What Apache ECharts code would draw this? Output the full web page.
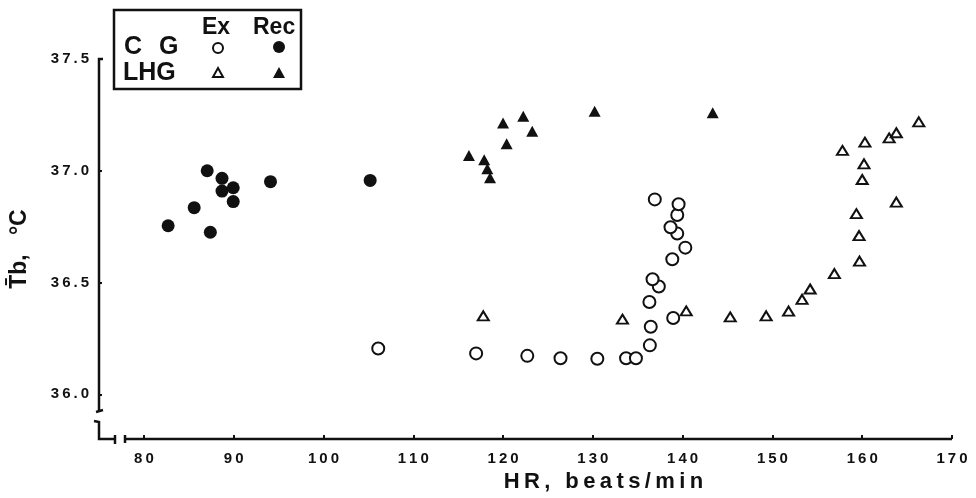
<!DOCTYPE html>
<html>
<head>
<meta charset="utf-8">
<script src="https://cdn.jsdelivr.net/npm/echarts@6/dist/echarts.min.js"></script>
<style>
  html, body { margin: 0; padding: 0; background: #fff; }
  #chart { width: 976px; height: 498px; }
</style>
</head>
<body>
<div id="chart"></div>
<script>
"use strict";

// values: [HR beats/min, mean Tb in C]
const cg_ex = [
  [106.1, 36.205], [117.0, 36.183], [122.7, 36.172], [126.4, 36.161],
  [130.5, 36.159], [133.7, 36.161], [134.8, 36.161], [136.35, 36.219],
  [136.45, 36.302], [138.95, 36.341], [136.3, 36.413], [137.35, 36.482],
  [136.65, 36.515], [138.85, 36.604], [140.3, 36.656], [139.4, 36.719],
  [138.65, 36.747], [139.4, 36.802], [139.55, 36.85], [136.9, 36.872],
];
const cg_rec = [
  [82.7, 36.754], [85.6, 36.835], [87.05, 37.0], [87.4, 36.725],
  [88.7, 36.966], [88.7, 36.909], [89.95, 36.924], [89.95, 36.862],
  [94.1, 36.951], [105.2, 36.957],
];
const lhg_ex = [
  [117.8, 36.351], [133.3, 36.336], [140.4, 36.373], [145.3, 36.346],
  [149.3, 36.351], [151.8, 36.372], [153.3, 36.425], [154.2, 36.471],
  [156.9, 36.54], [159.7, 36.596], [159.65, 36.71], [159.35, 36.808],
  [163.8, 36.86], [160.0, 36.961], [160.2, 37.031], [157.8, 37.091],
  [160.3, 37.128], [163.0, 37.147], [163.8, 37.17], [166.3, 37.219],
];
const lhg_rec = [
  [116.2, 37.068], [117.9, 37.049], [118.25, 37.009], [118.55, 36.969],
  [120.0, 37.214], [120.4, 37.121], [122.25, 37.244], [123.25, 37.177],
  [130.2, 37.266], [143.35, 37.259],
];

const x_ticks = [80, 90, 100, 110, 120, 130, 140, 150, 160, 170];
const y_ticks = [36.0, 36.5, 37.0, 37.5];
const x_title = "HR, beats/min";
const y_title = "T\u0304b,   \u00b0C";

const ink = "#111";
const font = "'Liberation Sans', Arial, sans-serif";

// old typewriter-ish letter spacing
function spaced(s) {
  return String(s).split("").join("\u2009");
}

const chart = echarts.init(document.getElementById("chart"));

const series_common = {
  type: "scatter",
  silent: true,
  animation: false,
};

chart.setOption({
  backgroundColor: "#fff",
  animation: false,
  grid: {
    left: 99,
    right: 24,
    top: 59,
    bottom: 59,
    containLabel: false,
    outerBoundsMode: "none",
  },
  xAxis: {
    type: "value",
    min: 75,
    max: 170,
    axisLine: { show: false },
    splitLine: { show: false },
    axisTick: {
      customValues: x_ticks,
      inside: true,
      length: 4,
      lineStyle: { color: ink, width: 2 },
    },
    axisLabel: {
      customValues: x_ticks,
      margin: 12,
      color: ink,
      fontFamily: font,
      fontWeight: "bold",
      fontSize: 15,
      formatter: (v) => spaced(v),
    },
    name: spaced(x_title),
    nameLocation: "middle",
    nameGap: 32,
    nameTextStyle: {
      color: ink,
      fontFamily: font,
      fontWeight: "bold",
      fontSize: 22,
      padding: [0, 0, 0, 156],
    },
  },
  yAxis: {
    type: "value",
    min: 35.8,
    max: 37.5,
    axisLine: { show: false },
    splitLine: { show: false },
    axisTick: {
      customValues: y_ticks,
      inside: true,
      length: 3,
      lineStyle: { color: ink, width: 2 },
    },
    axisLabel: {
      customValues: y_ticks,
      margin: 10,
      color: ink,
      fontFamily: font,
      fontWeight: "bold",
      fontSize: 15,
      formatter: (v) => spaced(v.toFixed(1)),
    },
    name: y_title,
    nameLocation: "middle",
    nameGap: 52,
    nameTextStyle: {
      color: ink,
      fontFamily: font,
      fontWeight: "bold",
      fontSize: 23,
      padding: [0, 0, 16, 0],
    },
  },
  series: [
    {
      ...series_common,
      name: "CG Ex",
      data: cg_ex,
      symbol: "circle",
      symbolSize: 12,
      itemStyle: { color: "#fff", borderColor: ink, borderWidth: 2, opacity: 1 },
    },
    {
      ...series_common,
      name: "CG Rec",
      data: cg_rec,
      symbol: "circle",
      symbolSize: 13,
      itemStyle: { color: ink, opacity: 1 },
    },
    {
      ...series_common,
      name: "LHG Ex",
      data: lhg_ex,
      symbol: "triangle",
      symbolSize: [11, 9],
      itemStyle: { color: "#fff", borderColor: ink, borderWidth: 2, opacity: 1 },
    },
    {
      ...series_common,
      name: "LHG Rec",
      data: lhg_rec,
      symbol: "triangle",
      symbolSize: [12, 11],
      itemStyle: { color: ink, opacity: 1 },
    },
  ],
});

// hand drawn axes with the break marks, placed from the axis scales
const p_origin = chart.convertToPixel({ gridIndex: 0 }, [75, 35.8]);
const p_top = chart.convertToPixel({ gridIndex: 0 }, [75, 37.5]);
const p_end = chart.convertToPixel({ gridIndex: 0 }, [170, 35.8]);
const x0 = p_origin[0];
const y0 = p_origin[1];
const brk1 = y0 - 28; // end of upper y segment
const brk2 = y0 - 18; // start of lower y segment

function seg(points, w) {
  return {
    type: "polyline",
    shape: { points: points },
    style: { stroke: ink, lineWidth: w || 2.5, fill: null },
    silent: true,
    z: 10,
  };
}

function txt(s, x, y, size) {
  return {
    type: "text",
    x: x,
    y: y,
    style: {
      text: s,
      font: "bold " + size + "px " + font,
      fill: ink,
      textAlign: "left",
      textVerticalAlign: "middle",
      align: "left",
      verticalAlign: "middle",
    },
    silent: true,
    z: 20,
  };
}

const axis_parts = [
  seg([[x0 + 4, p_top[1]], [x0, p_top[1]], [x0, brk1]]),
  seg([[x0 - 3, brk1 + 1], [x0 + 4, brk1 - 1]], 2.5),
  seg([[x0 - 5, brk2], [x0, brk2 + 1], [x0, y0], [x0 + 16, y0]]),
  seg([[x0 + 16, y0 - 4], [x0 + 16, y0 + 5]], 2.5),
  seg([[x0 + 26, y0 - 4], [x0 + 26, y0 + 4]], 2.5),
  seg([[x0 + 26, y0], [p_end[0], y0]]),
];

// legend box, drawn like the figure's key
const legend_parts = [
  {
    type: "rect",
    shape: { x: 114, y: 10, width: 187, height: 79 },
    style: { stroke: ink, lineWidth: 2.5, fill: "#fff" },
    silent: true,
    z: 15,
  },
  txt("Ex", 202, 28, 23),
  txt("Rec", 253, 28, 23),
  txt("C", 124, 47, 25),
  txt("G", 159, 47, 25),
  txt("LHG", 123, 73, 25),
  {
    type: "circle",
    shape: { cx: 218, cy: 48, r: 5 },
    style: { stroke: ink, lineWidth: 2, fill: "#fff" },
    silent: true,
    z: 20,
  },
  {
    type: "circle",
    shape: { cx: 279, cy: 47, r: 6 },
    style: { fill: ink },
    silent: true,
    z: 20,
  },
  {
    type: "polygon",
    shape: { points: [[218, 68], [223, 77], [213, 77]] },
    style: { stroke: ink, lineWidth: 2, fill: "#fff" },
    silent: true,
    z: 20,
  },
  {
    type: "polygon",
    shape: { points: [[279, 67], [285, 78], [273, 78]] },
    style: { fill: ink },
    silent: true,
    z: 20,
  },
];

chart.setOption({ graphic: axis_parts.concat(legend_parts) });
</script>
</body>
</html>
